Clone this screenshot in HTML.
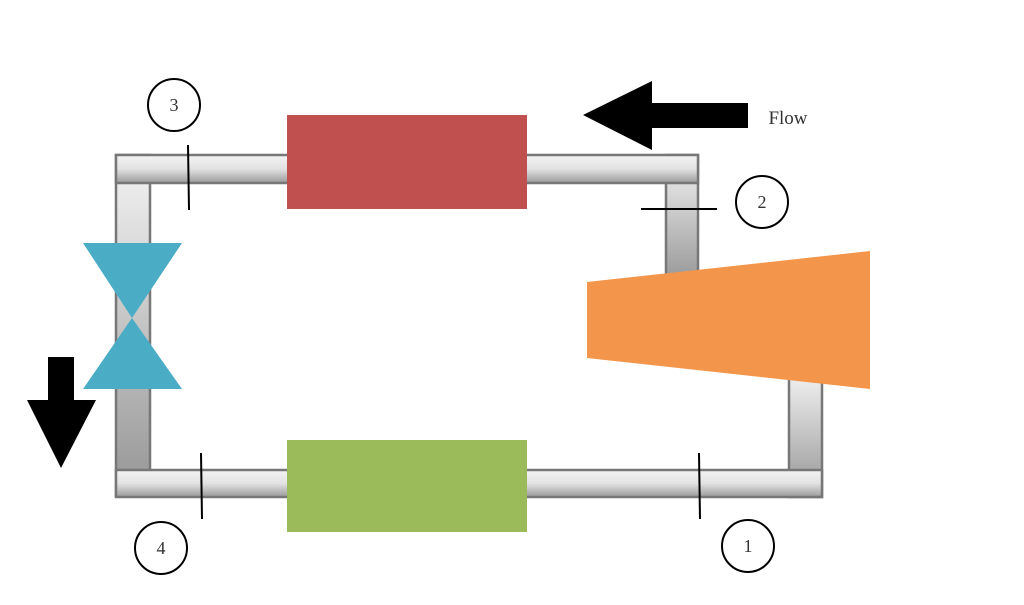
<!DOCTYPE html>
<html><head><style>body{margin:0;background:#fff}</style></head><body>
<svg width="1024" height="600" xmlns="http://www.w3.org/2000/svg">
<defs>
<linearGradient id="h" x1="0" y1="0" x2="0" y2="1"><stop offset="0" stop-color="#f4f4f4"/><stop offset="0.5" stop-color="#e2e2e2"/><stop offset="1" stop-color="#9a9a9a"/></linearGradient>
<linearGradient id="v" x1="0" y1="0" x2="0" y2="1"><stop offset="0" stop-color="#f4f4f4"/><stop offset="1" stop-color="#959595"/></linearGradient>
</defs>
<g stroke="#777" stroke-width="2.5">
<rect x="116" y="155" width="34" height="341" fill="url(#v)"/>
<rect x="666" y="155" width="32" height="130" fill="url(#v)"/>
<rect x="789" y="370" width="33" height="127" fill="url(#v)"/>
<rect x="116" y="155" width="582" height="28" fill="url(#h)"/>
<rect x="116" y="470" width="706" height="27" fill="url(#h)"/>
</g>
<rect x="287" y="115" width="240" height="94" fill="#c04f4f"/>
<rect x="287" y="440" width="240" height="92" fill="#9bbb5a"/>
<polygon points="587,282 870,251 870,389 587,358" fill="#f3964b"/>
<polygon points="83,243 182,243 132,318 182,389 83,389 132,318" fill="#4bacc6"/>
<polygon points="583,115 652,81 652,103 748,103 748,128 652,128 652,150" fill="#000"/>
<polygon points="48,357 74,357 74,400 96,400 61,468 27,400 48,400" fill="#000"/>
<g stroke="#000" stroke-width="2">
<line x1="188" y1="145" x2="189" y2="210"/>
<line x1="641" y1="209" x2="717" y2="209"/>
<line x1="201" y1="453" x2="202" y2="519"/>
<line x1="699" y1="453" x2="700" y2="519"/>
</g>
<g fill="#fff" stroke="#000" stroke-width="2">
<circle cx="174" cy="105" r="26"/><circle cx="762" cy="202" r="26"/>
<circle cx="161" cy="548" r="26"/><circle cx="748" cy="546" r="26"/>
</g>
<g font-family="Liberation Serif, serif" font-size="18" fill="#333" text-anchor="middle">
<text x="174" y="111">3</text><text x="762" y="208">2</text>
<text x="161" y="554">4</text><text x="748" y="552">1</text>
<text x="788" y="124" font-size="19">Flow</text>
</g>
</svg>
</body></html>
